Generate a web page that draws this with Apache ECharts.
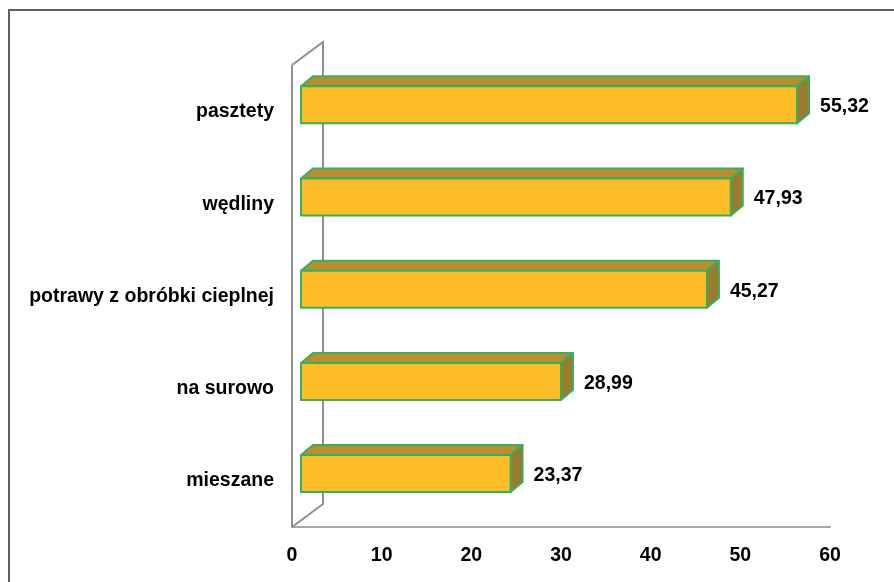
<!DOCTYPE html>
<html>
<head>
<meta charset="utf-8">
<script src="https://cdn.jsdelivr.net/npm/echarts@6/dist/echarts.min.js"></script>
<style>
  html, body { margin: 0; padding: 0; background: #ffffff; }
  #chart { width: 894px; height: 582px; }
</style>
</head>
<body>
<div id="chart"></div>
<script>
// Categories, top to bottom
const categories = ['pasztety', 'wędliny', 'potrawy z obróbki cieplnej', 'na surowo', 'mieszane'];
// Values for each category
const values = [55.32, 47.93, 45.27, 28.99, 23.37];
// Value axis ticks
const axisMin = 0;
const axisMax = 60;
const axisStep = 10;

// Plot area (front floor edge / front wall edge)
const GRID_LEFT = 292;
const GRID_RIGHT = 64;
const GRID_TOP = 66;
const GRID_BOTTOM = 55;
const W = 894, H = 582;

// 3D look: wall depth, bar placement inside the depth and bar thickness
const WALL_DX = 31, WALL_DY = -23;
const BAR_DX = 9, BAR_DY = -7.3;
const DEPTH_DX = 12, DEPTH_DY = -10;
const BAR_H = 37;

const FONT = '"Liberation Sans", Arial, sans-serif';
const FONT_SIZE = 19.5;
const COL_FRONT = '#fdbd27';
const COL_TOP = '#b88e30';
const COL_SIDE = '#9b7b30';
const COL_EDGE = '#3aae5c';
const COL_WALL = '#8f8f94';

function fmt(v) {
  return v.toFixed(2).replace('.', ',');
}

function renderBar(params, api) {
  const v = api.value(0);
  const idx = api.value(1);
  const p0 = api.coord([0, idx]);
  const p1 = api.coord([v, idx]);
  const x0 = p0[0] + BAR_DX;
  const x1 = p1[0] + BAR_DX;
  const cy = p0[1] + BAR_DY;
  const yt = cy - BAR_H / 2;
  const yb = cy + BAR_H / 2;
  const edge = { stroke: COL_EDGE, lineWidth: 2, lineJoin: 'round' };
  return {
    type: 'group',
    children: [
      {
        type: 'polygon',
        shape: { points: [[x0, yt], [x0 + DEPTH_DX, yt + DEPTH_DY], [x1 + DEPTH_DX, yt + DEPTH_DY], [x1, yt]] },
        style: Object.assign({ fill: COL_TOP }, edge)
      },
      {
        type: 'polygon',
        shape: { points: [[x1, yt], [x1 + DEPTH_DX, yt + DEPTH_DY], [x1 + DEPTH_DX, yb + DEPTH_DY], [x1, yb]] },
        style: Object.assign({ fill: COL_SIDE }, edge)
      },
      {
        type: 'rect',
        shape: { x: x0, y: yt, width: x1 - x0, height: yb - yt },
        style: Object.assign({ fill: COL_FRONT }, edge)
      },
      {
        type: 'text',
        style: {
          x: x1 + DEPTH_DX + 11,
          y: cy + 2,
          text: fmt(v),
          fill: '#000000',
          font: 'bold ' + FONT_SIZE + 'px ' + FONT,
          verticalAlign: 'middle',
          align: 'left'
        }
      }
    ]
  };
}

const chart = echarts.init(document.getElementById('chart'), null, { renderer: 'canvas' });

const gx0 = GRID_LEFT, gy0 = GRID_TOP, gyb = H - GRID_BOTTOM;

chart.setOption({
  backgroundColor: '#ffffff',
  animation: false,
  grid: { left: GRID_LEFT, right: GRID_RIGHT, top: GRID_TOP, bottom: GRID_BOTTOM, containLabel: false },
  xAxis: {
    type: 'value',
    min: axisMin,
    max: axisMax,
    interval: axisStep,
    splitLine: { show: false },
    axisTick: { show: false },
    axisLine: { show: true, lineStyle: { color: '#a6a6a6', width: 2 } },
    axisLabel: { color: '#000000', fontFamily: FONT, fontWeight: 'bold', fontSize: FONT_SIZE, margin: 19 }
  },
  yAxis: {
    type: 'category',
    data: categories,
    inverse: true,
    axisTick: { show: false },
    axisLine: { show: true, lineStyle: { color: COL_WALL, width: 2 } },
    axisLabel: { color: '#000000', fontFamily: FONT, fontWeight: 'bold', fontSize: FONT_SIZE, margin: 18 }
  },
  graphic: [
    // chart area frame
    {
      type: 'rect',
      shape: { x: 9, y: 10, width: 1000, height: 1000 },
      style: { fill: 'none', stroke: '#5f5f5f', lineWidth: 2 },
      silent: true
    },
    // back edges of the side wall
    {
      type: 'polyline',
      shape: { points: [[gx0, gy0 - 1], [gx0 + WALL_DX, gy0 - 1 + WALL_DY], [gx0 + WALL_DX, gyb + WALL_DY], [gx0, gyb]] },
      style: { fill: 'none', stroke: COL_WALL, lineWidth: 2 },
      silent: true,
      z: 1
    }
  ],
  series: [{
    type: 'custom',
    renderItem: renderBar,
    encode: { x: 0, y: 1 },
    data: values.map((v, i) => [v, i]),
    z: 5
  }]
});
</script>
</body>
</html>
